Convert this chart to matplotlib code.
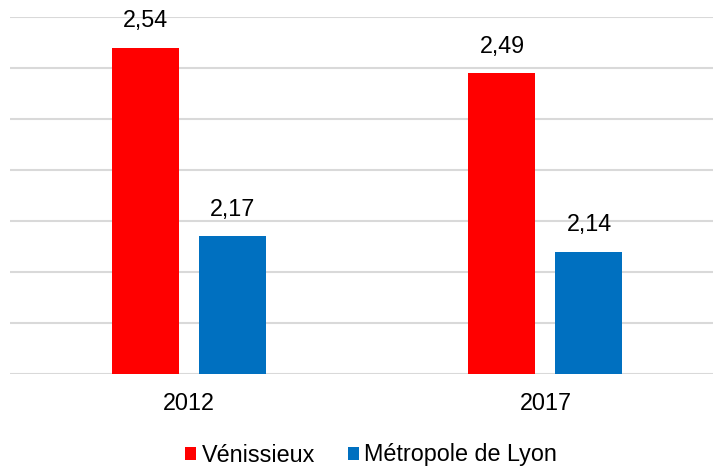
import matplotlib.pyplot as plt
import numpy as np

years = ['2012', '2017']
venissieux = [2.54, 2.49]
metropole = [2.17, 2.14]
series_names = ['Vénissieux', 'Métropole de Lyon']

plt.rcParams['font.family'] = ['Liberation Sans', 'DejaVu Sans']

W, H = 713, 466
fig = plt.figure(figsize=(W / 100, H / 100), dpi=100)
ax = fig.add_axes([10 / W, 1 - 374 / H, 703 / W, 357 / H])

x = np.arange(len(years))
bw = 0.188
off = 0.122
b1 = ax.bar(x - off, venissieux, bw, color='#FF0000', label=series_names[0], zorder=3)
b2 = ax.bar(x + off, metropole, bw, color='#0070C0', label=series_names[1], zorder=3)

for bars, vals in [(b1, venissieux), (b2, metropole)]:
    for b, v in zip(bars, vals):
        ax.annotate(('%.2f' % v).replace('.', ','),
                    (b.get_x() + b.get_width() / 2, v),
                    xytext=(0, 11), textcoords='offset points',
                    ha='center', va='bottom', fontsize=16.8, color='#000000')

ax.set_ylim(1.9, 2.6)
ax.set_yticks(np.arange(1.9, 2.61, 0.1))
ax.set_xlim(-0.502, 1.47)
ax.set_xticks(x)
ax.set_xticklabels(years, fontsize=16.8)
ax.tick_params(axis='x', length=0, pad=13)
ax.tick_params(axis='y', length=0, labelleft=False)
ax.grid(axis='y', color='#D9D9D9', linewidth=1.5, zorder=0)
ax.set_axisbelow(True)
for s in ax.spines.values():
    s.set_visible(False)

fig.legend(loc='center', bbox_to_anchor=(371 / W, 1 - 455 / H), ncol=2,
           frameon=False, fontsize=16.8, handlelength=0.47, handleheight=0.47,
           handletextpad=0.25, columnspacing=1.4, borderpad=0)

fig.savefig('out.png', dpi=100)
